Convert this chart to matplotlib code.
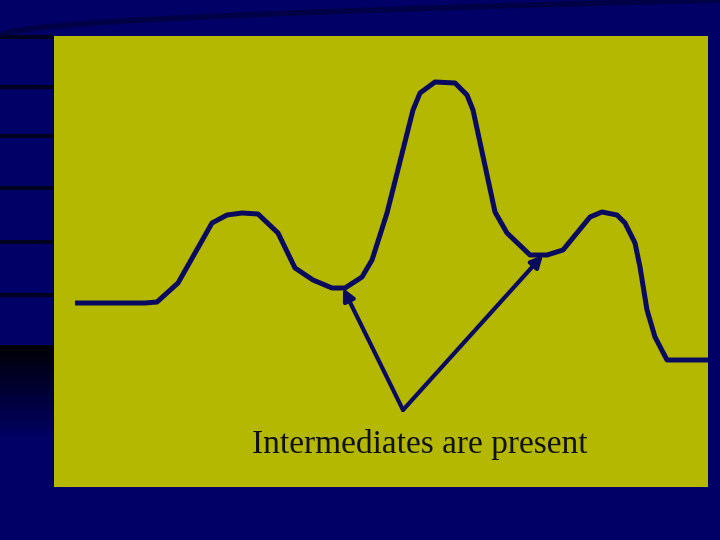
import matplotlib.pyplot as plt
import numpy as np

# reaction profile, traced in pixel coordinates of the slide (y grows downward)
curve_x = [75, 145, 157, 178, 212, 227, 242, 258, 278, 295, 313, 332, 345,
           362, 372, 387, 413, 420, 435, 455, 467, 473, 495, 507, 530, 547,
           563, 590, 602, 617, 625, 635, 640, 647, 655, 667, 708]
curve_y = [303, 303, 302, 283, 223, 215, 213, 214, 233, 268, 280, 288, 288,
           277, 260, 213, 110, 93, 82, 83, 95, 110, 212, 233, 255, 255,
           250, 217, 212, 215, 223, 243, 267, 310, 337, 360, 360]

# arrows pointing at the two intermediates
arrow_start = (403, 410)
arrow_ends = [(343, 288), (543, 255)]
label = 'Intermediates are present'

# dark stripes on the left margin
stripe_y = [37, 87, 136, 188, 242, 295]

navy = '#000066'
panel = '#b5b800'
ink = '#0a0a5e'

fig = plt.figure(figsize=(7.2, 5.4), dpi=100)
fig.patch.set_facecolor(navy)
ax = fig.add_axes([0, 0, 1, 1])
ax.set_xlim(0, 720)
ax.set_ylim(540, 0)
ax.axis('off')
ax.set_facecolor(navy)

# background decoration
for y in stripe_y:
    ax.plot([0, 54], [y, y], color='#000022', lw=3, solid_capstyle='butt')
# dark band fading into the navy on the left margin
fade = np.zeros((80, 1, 4))
fade[:, 0, 3] = np.linspace(0.95, 0.0, 80)
ax.imshow(fade, extent=(0, 54, 440, 345), aspect='auto', interpolation='bilinear')
tx = np.linspace(0, 720, 60)
ax.plot(tx, 36 - 36 * np.sqrt(tx / 720), color='#000033', lw=4, alpha=0.6)

# yellow panel
ax.add_patch(plt.Rectangle((54, 36), 654, 451, facecolor=panel, edgecolor='none'))

ax.plot(curve_x, curve_y, color=ink, lw=3.6, solid_joinstyle='round', solid_capstyle='butt')

for end in arrow_ends:
    ax.annotate('', xy=end, xytext=arrow_start,
                arrowprops=dict(arrowstyle='-|>,head_length=0.7,head_width=0.35',
                                color=ink, lw=3, shrinkA=0, shrinkB=0))

ax.text(420, 445, label, fontsize=24, family='Liberation Serif',
        color='#111111', ha='center', va='center')

fig.savefig('out.png', dpi=100, facecolor=fig.get_facecolor())
